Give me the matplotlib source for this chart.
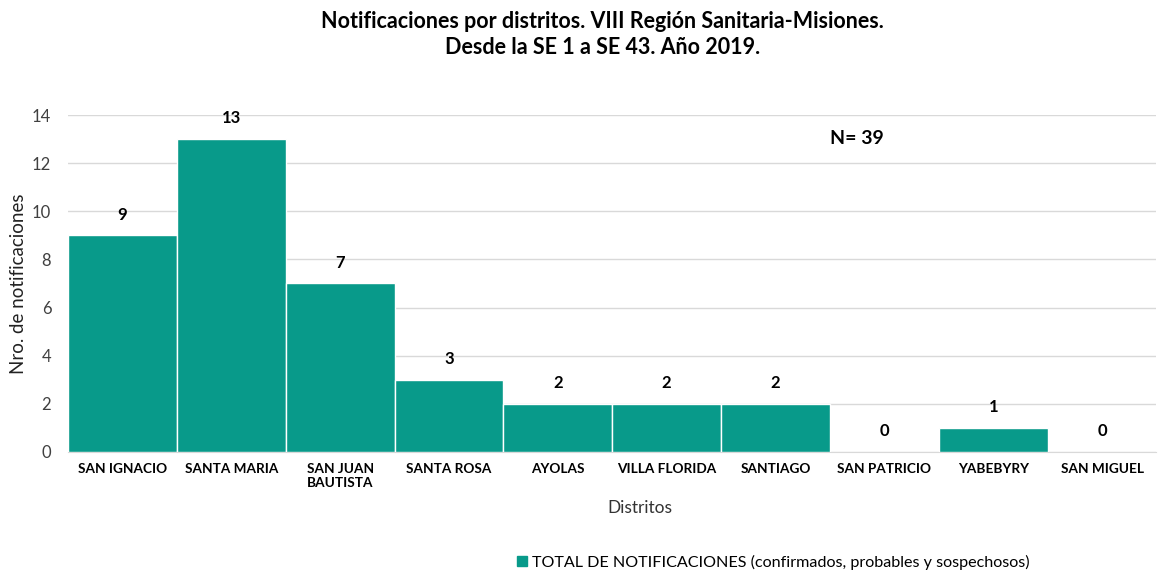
import matplotlib.pyplot as plt
from matplotlib.patches import Patch

plt.rcParams['font.family'] = ['Lato', 'DejaVu Sans']

# Datos
distritos = ["SAN IGNACIO", "SANTA MARIA", "SAN JUAN\nBAUTISTA", "SANTA ROSA", "AYOLAS",
             "VILLA FLORIDA", "SANTIAGO", "SAN PATRICIO", "YABEBYRY", "SAN MIGUEL"]
notificaciones = [9, 13, 7, 3, 2, 2, 2, 0, 1, 0]
total = 39

color = "#089a8a"

fig = plt.figure(figsize=(11.58, 5.75), dpi=100)
ax = fig.add_axes([0.0587, 0.214, 0.94, 0.586])

x = range(len(distritos))
ax.bar(x, notificaciones, width=1.0, color=color, edgecolor="white", linewidth=1, zorder=3)

for i, v in enumerate(notificaciones):
    ax.annotate(str(v), (i, v), xytext=(0, 15), textcoords="offset points",
                ha="center", va="center", fontsize=12, fontweight="bold")

ax.set_xlim(-0.5, len(distritos) - 0.5)
ax.set_ylim(0, 14)
ax.set_yticks(range(0, 15, 2))
ax.set_xticks(list(x))
ax.set_xticklabels(distritos, fontsize=9.8, fontweight="bold", linespacing=1.15)
ax.tick_params(axis="y", labelsize=12, length=0, pad=12, colors="#404040")
ax.tick_params(axis="x", length=0, pad=8)
ax.grid(axis="y", color="#d9d9d9", linewidth=1, zorder=0)
for s in ["top", "right", "left"]:
    ax.spines[s].set_visible(False)
ax.spines["bottom"].set_color("#d9d9d9")

ax.set_ylabel("Nro. de notificaciones", fontsize=13.5, color="#222222", labelpad=4)
fig.text(0.553, 0.117, "Distritos", ha="center", va="center", fontsize=12.5, color="#333333")

ax.text(0.70, 0.93, f"N= {total}", transform=ax.transAxes, fontsize=14,
        fontweight="bold", ha="left", va="center")

fig.text(0.52, 0.94, "Notificaciones por distritos. VIII Región Sanitaria-Misiones.\nDesde la SE 1 a SE 43. Año 2019.",
         ha="center", va="center", fontsize=15.5, fontweight="bold", linespacing=1.25)

handle = Patch(color=color)
fig.legend([handle], ["TOTAL DE NOTIFICACIONES (confirmados, probables y sospechosos)"],
           loc="center", bbox_to_anchor=(0.668, 0.022), frameon=False, fontsize=11.6,
           handlelength=0.6, handleheight=0.6, handletextpad=0.3)

fig.savefig("out.png", dpi=100)
